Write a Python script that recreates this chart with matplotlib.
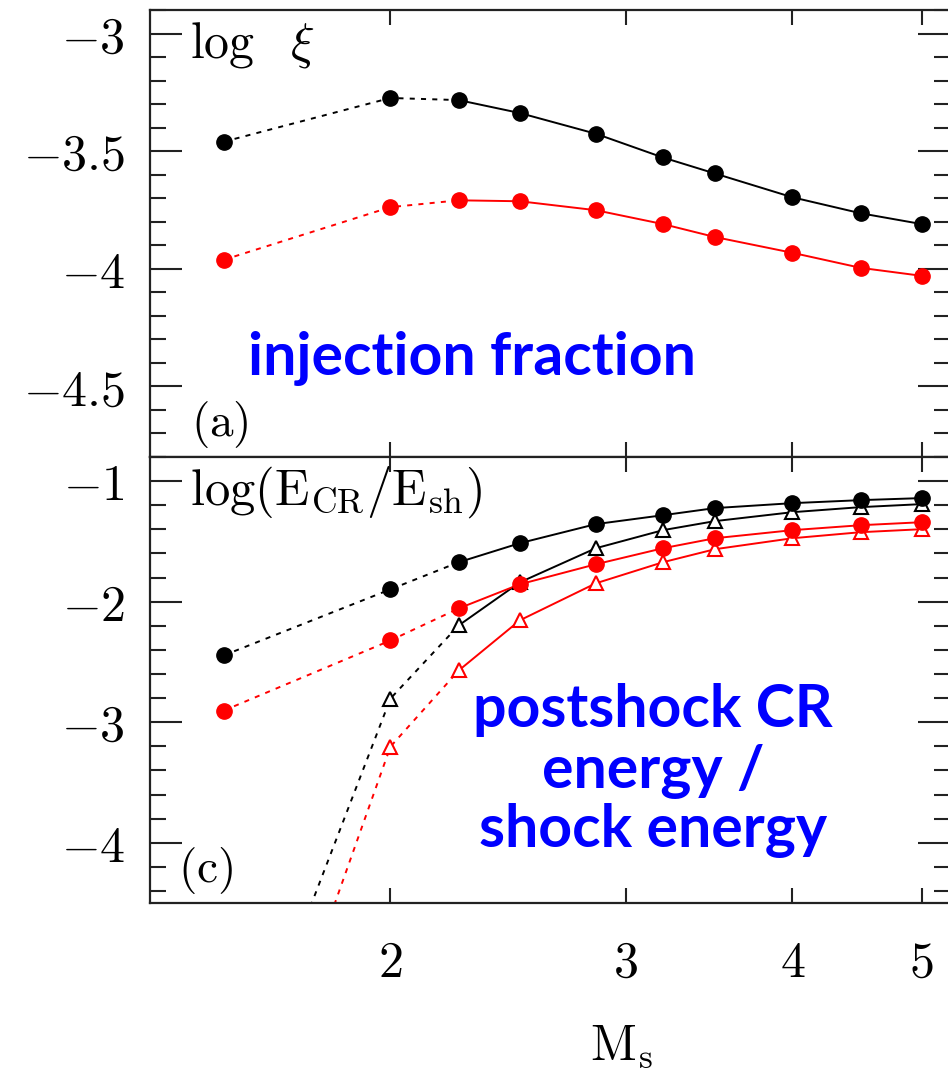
import matplotlib
matplotlib.use('Agg')
import matplotlib.pyplot as plt
from matplotlib.ticker import FixedLocator, MultipleLocator, FuncFormatter, NullLocator

plt.rcParams['mathtext.fontset'] = 'cm'

# Mach numbers of the simulated shocks
mach = [1.5, 2.0, 2.25, 2.5, 2.85, 3.2, 3.5, 4.0, 4.5, 5.0]

# (a) injection fraction, log xi
xi_black = [-3.46, -3.274, -3.283, -3.338, -3.426, -3.527, -3.595, -3.696, -3.764, -3.81]
xi_red = [-3.962, -3.738, -3.709, -3.713, -3.751, -3.81, -3.865, -3.932, -3.996, -4.03]

# (c) log(E_CR / E_sh)
ecr_black_circ = [-2.446, -1.898, -1.673, -1.515, -1.357, -1.283, -1.224, -1.183, -1.158, -1.141]
ecr_red_circ = [-2.904, -2.322, -2.056, -1.856, -1.69, -1.557, -1.474, -1.407, -1.366, -1.341]
ecr_black_tri = [-6.4, -2.804, -2.197, -1.84, -1.557, -1.407, -1.332, -1.258, -1.216, -1.191]
ecr_red_tri = [-7.1, -3.203, -2.571, -2.155, -1.848, -1.673, -1.565, -1.474, -1.424, -1.399]

xticks = [2, 3, 4, 5]
n_dot = 3  # first points joined with a dotted line

fig = plt.figure(figsize=(9.48, 10.74), dpi=100)
ax1 = fig.add_axes([0.1582, 0.5745, 0.8439, 0.4162])
ax2 = fig.add_axes([0.1582, 0.1592, 0.8439, 0.4153])

lw = 1.4
dash = (2.6, 3.2)


def series(ax, y, color, marker, filled):
    ax.plot(mach[:n_dot], y[:n_dot], color=color, lw=lw, dashes=dash, zorder=2)
    ax.plot(mach[n_dot - 1:], y[n_dot - 1:], color=color, lw=lw, zorder=2)
    if filled:
        ax.plot(mach, y, ls='none', marker=marker, ms=11, color=color, zorder=3)
    else:
        ax.plot(mach, y, ls='none', marker=marker, ms=9.5, mfc='white', mec=color,
                mew=1.5, zorder=3)


series(ax1, xi_black, 'black', 'o', True)
series(ax1, xi_red, '#ff0000', 'o', True)
series(ax2, ecr_black_tri, 'black', '^', False)
series(ax2, ecr_red_tri, '#ff0000', '^', False)
series(ax2, ecr_black_circ, 'black', 'o', True)
series(ax2, ecr_red_circ, '#ff0000', 'o', True)

fmt = FuncFormatter(lambda v, p: '$%g$' % v)

for ax in (ax1, ax2):
    ax.set_xscale('log')
    ax.set_xlim(1.321, 5.25)
    ax.xaxis.set_major_locator(FixedLocator(xticks))
    ax.xaxis.set_minor_locator(NullLocator())
    ax.xaxis.set_major_formatter(FuncFormatter(lambda v, p: '$%g$' % v))
    ax.yaxis.set_major_formatter(fmt)
    ax.tick_params(axis='both', which='both', direction='in', top=True, right=True,
                   width=1.5, colors='#222222', labelcolor='black')
    ax.tick_params(axis='y', which='major', length=23, labelsize=36, pad=18)
    ax.tick_params(axis='y', which='minor', length=11.5)
    ax.tick_params(axis='x', which='major', length=11, labelsize=36, pad=26)
    for s in ax.spines.values():
        s.set_linewidth(1.6)
        s.set_color('#222222')

ax1.set_ylim(-4.8, -2.9)
ax1.yaxis.set_major_locator(MultipleLocator(0.5))
ax1.yaxis.set_minor_locator(MultipleLocator(0.1))
ax1.tick_params(axis='x', labelbottom=False)

ax2.set_ylim(-4.5, -0.8)
ax2.yaxis.set_major_locator(MultipleLocator(1))
ax2.yaxis.set_minor_locator(MultipleLocator(0.2))

# panel labels
def ftext(x, y, s, **kw):
    fig.text(x / 948, 1 - y / 1074, s, **kw)


ftext(190, 57, r'$\mathrm{log}\;\;\;\xi$', fontsize=36, va='baseline')
ftext(191, 436, r'$\mathrm{(a)}$', fontsize=34, va='baseline')
ftext(190, 505, r'$\mathrm{log(E_{CR}/E_{sh})}$', fontsize=36.5, va='baseline')
ftext(178, 882, r'$\mathrm{(c)}$', fontsize=34, va='baseline')
ftext(590, 1060, r'$\mathrm{M_s}$', fontsize=36, va='baseline', ha='left')

blue = '#0000ff'
bkw = dict(fontsize=42.5, fontweight='bold', family=['Lato', 'DejaVu Sans'],
           color=blue, ha='center', va='baseline')
ftext(472, 375, 'injection fraction', **bkw)
ftext(653, 727, 'postshock CR', **bkw)
ftext(653, 788, 'energy /', **bkw)
ftext(653, 847, 'shock energy', **bkw)

fig.savefig('out.png', dpi=100)
